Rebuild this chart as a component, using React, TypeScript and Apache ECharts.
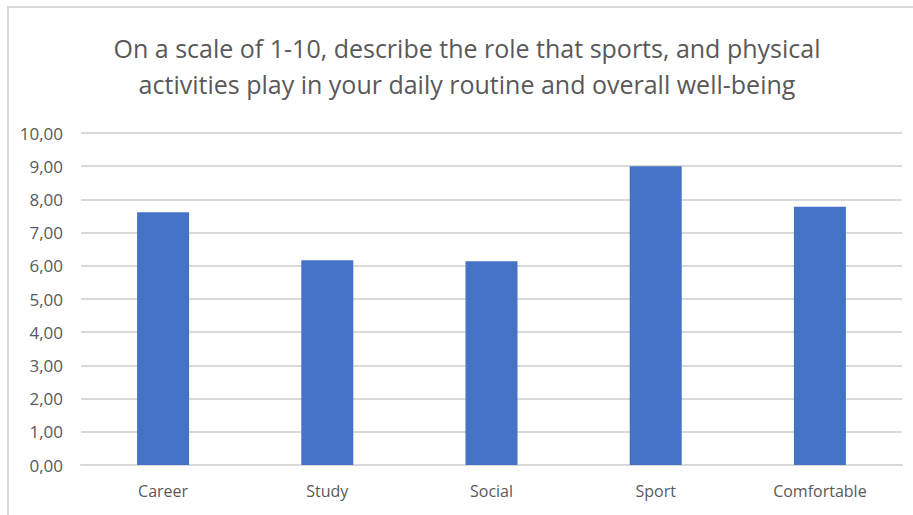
import React, { useEffect, useRef } from "react";
import * as echarts from "echarts";

const titleLines = [
  "On a scale of 1-10, describe the role that sports, and physical",
  "activities play in your daily routine and overall well-being",
];
const categories = ["Career", "Study", "Social", "Sport", "Comfortable"];
const values = [7.61, 6.17, 6.14, 9.0, 7.78];
const yMin = 0;
const yMax = 10;
const yStep = 1;

const FONT = "'Open Sans', sans-serif";

export default function App() {
  const ref = useRef<HTMLDivElement>(null);
  useEffect(() => {
    if (!ref.current) return;
    const chart = echarts.init(ref.current, null, { renderer: "svg" });
    chart.setOption({
      animation: false,
      backgroundColor: "#ffffff",
      graphic: [
        {
          type: "rect",
          shape: { x: 8, y: 7, width: 920, height: 520 },
          style: { fill: "none", stroke: "#d9d9d9", lineWidth: 2 },
          silent: true,
        },
        {
          type: "text",
          style: {
            text: titleLines.join("\n"),
            x: 467,
            y: 30,
            align: "center",
            verticalAlign: "top",
            font: `25px ${FONT}`,
            fill: "#595959",
            lineHeight: 36,
          },
        },
      ],
      grid: { left: 81, right: 11, top: 133, bottom: 50, containLabel: false },
      xAxis: {
        type: "category",
        data: categories,
        axisLine: { lineStyle: { color: "#d9d9d9", width: 2 } },
        axisTick: { show: false },
        axisLabel: { color: "#595959", fontSize: 16, fontFamily: FONT, margin: 18 },
      },
      yAxis: {
        type: "value",
        min: yMin,
        max: yMax,
        interval: yStep,
        axisLine: { show: false },
        axisTick: { show: false },
        splitLine: { lineStyle: { color: "#d9d9d9", width: 2 } },
        axisLabel: {
          color: "#595959",
          fontSize: 17,
          fontFamily: FONT,
          margin: 18,
          formatter: (v: number) => v.toFixed(2).replace(".", ","),
        },
      },
      series: [
        {
          type: "bar",
          data: values,
          barWidth: 52,
          itemStyle: { color: "#4472c4" },
        },
      ],
    });
    return () => chart.dispose();
  }, []);
  return (
    <div
      ref={ref}
      style={{ position: "fixed", left: 0, top: 0, width: 913, height: 515 }}
    />
  );
}
